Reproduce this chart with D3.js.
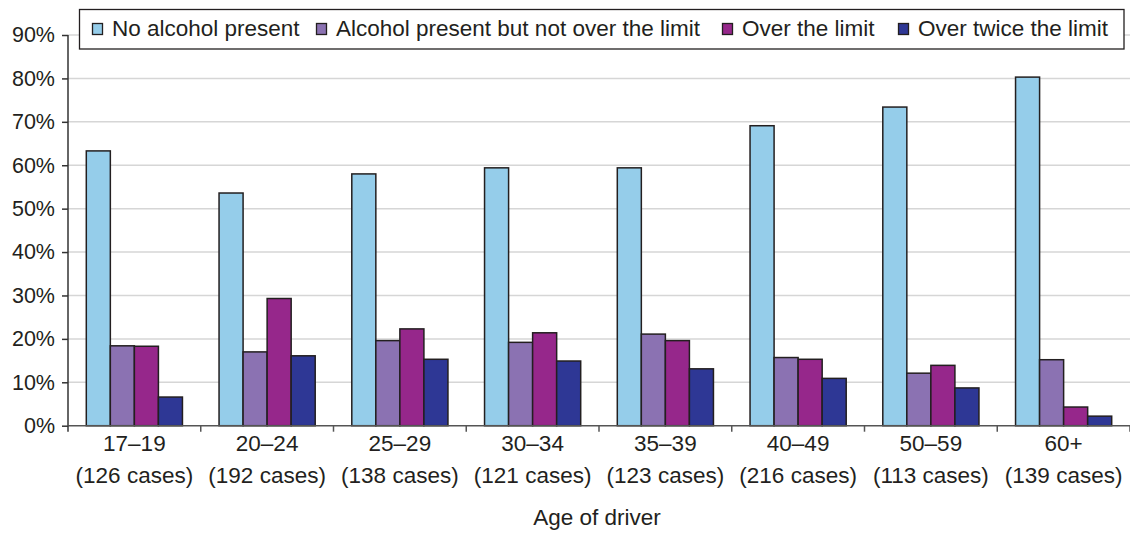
<!DOCTYPE html>
<html><head><meta charset="utf-8">
<script src="https://cdn.jsdelivr.net/npm/d3@7"></script>
<style>html,body{margin:0;padding:0;background:#fff;}svg{display:block;font-family:"Liberation Sans",Arial,sans-serif;}</style>
</head><body><svg id="c" width="1130" height="534"></svg>
<script>
const categories = ["17–19","20–24","25–29","30–34","35–39","40–49","50–59","60+"];
const cases = ["(126 cases)","(192 cases)","(138 cases)","(121 cases)","(123 cases)","(216 cases)","(113 cases)","(139 cases)"];
const seriesNames = ["No alcohol present","Alcohol present but not over the limit","Over the limit","Over twice the limit"];
const noAlcohol   = [63.3, 53.6, 58.0, 59.4, 59.4, 69.1, 73.4, 80.3];
const underLimit  = [18.4, 17.0, 19.6, 19.2, 21.1, 15.7, 12.1, 15.2];
const overLimit   = [18.3, 29.3, 22.3, 21.4, 19.6, 15.3, 13.9, 4.3];
const overTwice   = [6.6, 16.1, 15.3, 14.9, 13.1, 10.9, 8.7, 2.2];
const yTicks = [0,10,20,30,40,50,60,70,80,90];
const colors = ["#95cdea","#8b72b2","#96278b","#2e3795"];
const seriesValues = [noAlcohol, underLimit, overLimit, overTwice];

const svg = d3.select("#c");
const ink = "#231f20";
const x0 = d3.scaleBand().domain(categories).range([68, 1130]).padding(0);
const bw = x0.bandwidth();
const x1 = d3.scaleBand().domain(seriesNames).range([18.3, bw - 18.3]).padding(0);
const y = d3.scaleLinear().domain([0, 90]).range([425.7, 35]);

// gridlines
svg.append("g").selectAll("line").data(yTicks.filter(d=>d>0)).join("line")
  .attr("x1", 68).attr("x2", 1130)
  .attr("y1", d=>y(d)).attr("y2", d=>y(d))
  .attr("stroke", "#d6d6d6").attr("stroke-width", 1.5);

// bars
const groups = svg.append("g").selectAll("g").data(categories).join("g")
  .attr("transform", d=>`translate(${x0(d)},0)`);
groups.selectAll("rect").data((d,i)=>seriesNames.map((s,k)=>({s, v: seriesValues[k][i], k})))
  .join("rect")
  .attr("x", d=>x1(d.s)).attr("width", x1.bandwidth())
  .attr("y", d=>y(d.v)).attr("height", d=>y(0)-y(d.v))
  .attr("fill", d=>colors[d.k]).attr("stroke", ink).attr("stroke-width", 1.5);

// y axis
const yAxis = d3.axisLeft(y).tickValues(yTicks).tickFormat(d=>d+"%").tickSize(6).tickPadding(7);
const ya = svg.append("g").attr("transform","translate(68,0)").call(yAxis);
ya.select(".domain").attr("stroke","#333").attr("stroke-width",1.5).attr("d","M0,35V425.7");
ya.selectAll(".tick line").attr("stroke","#333").attr("stroke-width",1.5);
ya.selectAll(".tick text").attr("fill",ink).style("font-size","21.5px").style("font-family","'Liberation Sans',Arial,sans-serif");

// x axis
svg.append("line").attr("x1",68).attr("x2",1130).attr("y1",y(0)).attr("y2",y(0))
  .attr("stroke","#555").attr("stroke-width",1.5);
svg.append("g").selectAll("line").data(categories).join("line")
  .attr("x1",d=>x0(d)+bw).attr("x2",d=>x0(d)+bw)
  .attr("y1",y(0)).attr("y2",y(0)+6).attr("stroke","#555").attr("stroke-width",1.5);
svg.append("line").attr("x1",68).attr("x2",68).attr("y1",y(0)).attr("y2",y(0)+6).attr("stroke","#333").attr("stroke-width",1.5);

const xl = svg.append("g").selectAll("text").data(categories).join("text")
  .attr("x", d=>x0(d)+bw/2).attr("text-anchor","middle").attr("fill",ink)
  .style("font-size","22.5px");
xl.append("tspan").attr("x", d=>x0(d)+bw/2).attr("y",451).text(d=>d);
xl.append("tspan").attr("x", d=>x0(d)+bw/2).attr("y",483).text((d,i)=>cases[i]);

svg.append("text").attr("x",597).attr("y",525).attr("text-anchor","middle")
  .attr("fill",ink).style("font-size","22.5px").text("Age of driver");

// legend
svg.append("rect").attr("x",79.5).attr("y",9.5).attr("width",1044.5).attr("height",39.5)
  .attr("fill","#fff").attr("stroke",ink).attr("stroke-width",1.3);
const legX = [92, 316, 722, 898];
const lg = svg.append("g").selectAll("g").data(seriesNames).join("g")
  .attr("transform",(d,i)=>`translate(${legX[i]},0)`);
lg.append("rect").attr("x",0.5).attr("y",23.5).attr("width",10).attr("height",11)
  .attr("fill",(d,i)=>colors[i]).attr("stroke",ink).attr("stroke-width",1.3);
lg.append("text").attr("x",20).attr("y",36).attr("fill",ink).style("font-size","22.5px").text(d=>d);
</script></body></html>
